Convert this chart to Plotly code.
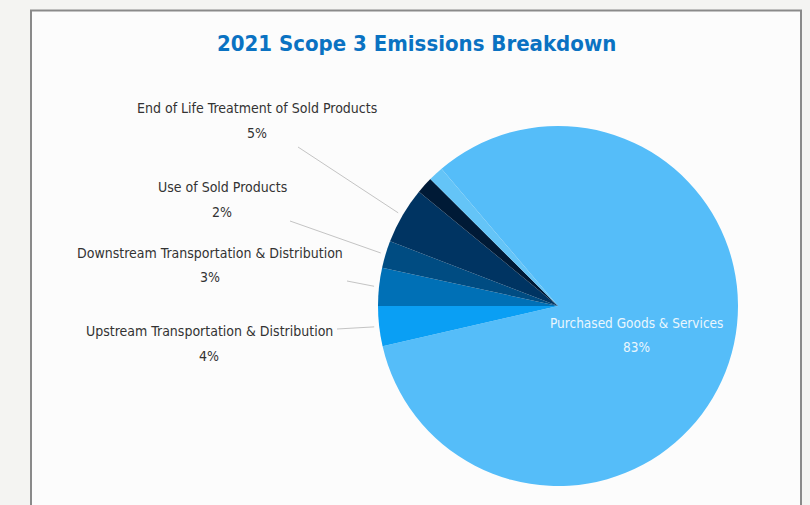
import math
import plotly.graph_objects as go

# ---- data ----
categories = [
    "Purchased Goods & Services",
    "Upstream Transportation & Distribution",
    "Downstream Transportation & Distribution",
    "Use of Sold Products",
    "End of Life Treatment of Sold Products",
    "Other (dark)",
    "Other (light)",
]
values = [82.6, 3.6, 3.4, 2.45, 5.1, 1.5, 1.35]
labelled = [True, True, True, True, True, False, False]
title_text = "2021 Scope 3 Emissions Breakdown"

# ---- style ----
colors = ["#55bdf9", "#0a9ff4", "#0070b6", "#004c82", "#003462", "#001a36", "#64c4f7"]
W, H = 810, 505
CX, CY, R = 558, 306, 180
FONT = "DejaVu Sans Condensed, Liberation Sans Narrow, sans-serif"

total = sum(values)
pcts = [v / total * 100 for v in values]
# rotate so that Purchased+Upstream ends at 9 o'clock
rotation = 270 - 3.6 * (pcts[0] + pcts[1])


def px(x):
    return x / W


def py(y):
    return 1 - y / H


fig = go.Figure()
fig.add_trace(go.Pie(
    labels=categories,
    values=values,
    sort=False,
    direction="clockwise",
    rotation=rotation,
    marker=dict(colors=colors, line=dict(width=0)),
    textinfo="none",
    hoverinfo="label+percent",
    showlegend=False,
    domain=dict(x=[px(CX - R), px(CX + R)], y=[py(CY + R), py(CY - R)]),
))

shapes = [
    dict(type="rect", xref="paper", yref="paper",
         x0=px(31), x1=px(801), y0=py(515), y1=py(10.5),
         fillcolor="#fcfcfc", line=dict(color="#8a8a8a", width=2), layer="below"),
]

annotations = [
    dict(text="<b>" + title_text + "</b>", x=px(416), y=py(44), xref="paper", yref="paper",
         showarrow=False, xanchor="center", yanchor="middle",
         font=dict(family=FONT, size=22, color="#0a72c2")),
]


def two_line(name, pct, cx, y1, y2, size, color):
    for t, yy in ((name, y1), (pct, y2)):
        annotations.append(dict(
            text=t, x=px(cx), y=py(yy), xref="paper", yref="paper",
            showarrow=False, xanchor="center", yanchor="middle",
            font=dict(family=FONT, size=size, color=color)))


# label positions (layout): (text centre x, name y, pct y, leader start x, leader start y)
label_layout = {
    1: (209, 331, 356, 337, 329),
    2: (210, 253, 277, 347, 281),
    3: (222, 187, 212, 290, 221),
    4: (257, 108, 133, 298, 147),
}

cum = 0.0
for i, p in enumerate(pcts):
    mid = cum + p / 2
    cum += p
    if i == 0 or not labelled[i]:
        continue
    tx, ty1, ty2, sx, sy = label_layout[i]
    theta = math.radians(rotation + 3.6 * mid)
    ex = CX + (R + 5) * math.sin(theta)
    ey = CY - (R + 5) * math.cos(theta)
    shapes.append(dict(type="line", xref="paper", yref="paper",
                       x0=px(sx), y0=py(sy), x1=px(ex), y1=py(ey),
                       line=dict(color="#c4c4c4", width=1)))
    two_line(categories[i], f"{round(p)}%", tx, ty1, ty2, 14, "#333333")

two_line(categories[0], f"{round(pcts[0])}%", 636, 323, 347, 13.5, "#eaf6fd")

fig.update_layout(
    width=W, height=H,
    margin=dict(l=0, r=0, t=0, b=0),
    paper_bgcolor="#f4f4f2",
    plot_bgcolor="#f4f4f2",
    shapes=shapes,
    annotations=annotations,
)

fig.write_html("out.html", config={"displayModeBar": False},
               post_script="document.body.style.margin='0';document.body.style.overflow='hidden';")
